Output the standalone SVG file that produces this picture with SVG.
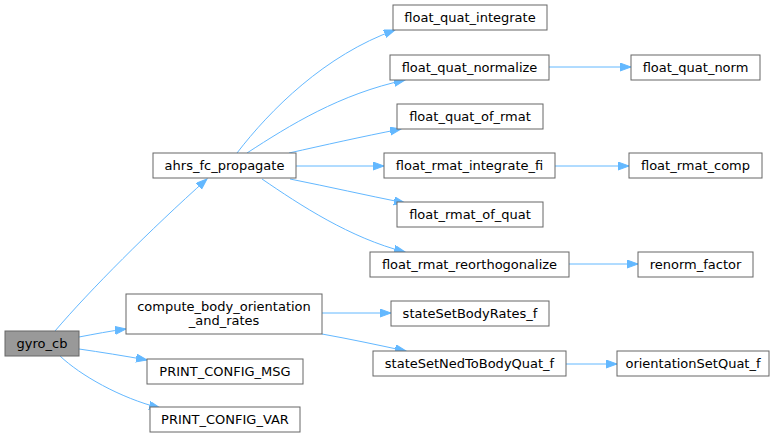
<svg xmlns="http://www.w3.org/2000/svg" width="780" height="439" viewBox="0 0 780 439">
<style>
.n rect{fill:#ffffff;stroke:#666666;stroke-width:1}
.n.root rect{fill:#999999}
text{font-family:"DejaVu Sans","Liberation Sans",sans-serif;font-size:13px;fill:#000000;text-anchor:middle}
.e path{fill:none;stroke:#63b8ff;stroke-width:1;marker-end:url(#ah)}
</style>
<defs>
<marker id="ah" markerUnits="userSpaceOnUse" markerWidth="12" markerHeight="9" refX="11" refY="4" orient="auto">
<path d="M0,0 L11,4 L0,8 z" fill="#63b8ff" stroke="#63b8ff"/>
</marker>
</defs>
<rect width="780" height="439" fill="#ffffff"/>
<g class="e" id="edges">
<path d="M55,331 C90,290 150,230 207,179"/>
<path d="M79,337 C95,334 110,331 126,329"/>
<path d="M79,349 C100,352 125,356 147,360"/>
<path d="M60,356 C80,375 120,398 160,408"/>
<path d="M237,153 C270,110 325,55 395,30"/>
<path d="M247,153 C290,125 340,94 405,80"/>
<path d="M289,153 C325,145 360,137 401,129"/>
<path d="M296,166 L384,166"/>
<path d="M290,179 C330,187 365,195 405,203"/>
<path d="M262,179 C300,205 350,238 405,252"/>
<path d="M549,67 L631,67"/>
<path d="M555,166 L629,166"/>
<path d="M569,264 L638,264"/>
<path d="M322,313 L391,313"/>
<path d="M322,334 C350,339 378,345 406,351"/>
<path d="M566,364 L617,364"/>
</g>
<g class="n root" id="gyro_cb"><rect x="5" y="331" width="74" height="25"/><text x="42" y="348">gyro_cb</text></g>
<g class="n" id="ahrs_fc_propagate"><rect x="153" y="153" width="143" height="25"/><text x="224.5" y="170">ahrs_fc_propagate</text></g>
<g class="n" id="float_quat_integrate"><rect x="393" y="5" width="154" height="25"/><text x="470" y="22">float_quat_integrate</text></g>
<g class="n" id="float_quat_normalize"><rect x="390" y="55" width="159" height="25"/><text x="469.5" y="72">float_quat_normalize</text></g>
<g class="n" id="float_quat_norm"><rect x="631" y="55" width="129" height="25"/><text x="695.5" y="72">float_quat_norm</text></g>
<g class="n" id="float_quat_of_rmat"><rect x="397" y="104" width="146" height="25"/><text x="470" y="121">float_quat_of_rmat</text></g>
<g class="n" id="float_rmat_integrate_fi"><rect x="384" y="153" width="171" height="25"/><text x="469.5" y="170">float_rmat_integrate_fi</text></g>
<g class="n" id="float_rmat_comp"><rect x="629" y="153" width="133" height="25"/><text x="695.5" y="170">float_rmat_comp</text></g>
<g class="n" id="float_rmat_of_quat"><rect x="397" y="202" width="146" height="25"/><text x="470" y="219">float_rmat_of_quat</text></g>
<g class="n" id="float_rmat_reorthogonalize"><rect x="370" y="252" width="199" height="25"/><text x="469.5" y="269">float_rmat_reorthogonalize</text></g>
<g class="n" id="renorm_factor"><rect x="638" y="252" width="115" height="25"/><text x="695.5" y="269">renorm_factor</text></g>
<g class="n" id="compute_body_orientation_and_rates"><rect x="126" y="294" width="196" height="40"/><text x="224" y="310.5">compute_body_orientation</text><text x="224" y="324.5">_and_rates</text></g>
<g class="n" id="stateSetBodyRates_f"><rect x="391" y="301" width="158" height="25"/><text x="470" y="318">stateSetBodyRates_f</text></g>
<g class="n" id="stateSetNedToBodyQuat_f"><rect x="373" y="351" width="193" height="25"/><text x="469.5" y="368">stateSetNedToBodyQuat_f</text></g>
<g class="n" id="orientationSetQuat_f"><rect x="617" y="351" width="152" height="25"/><text x="693" y="368">orientationSetQuat_f</text></g>
<g class="n" id="PRINT_CONFIG_MSG"><rect x="147" y="359" width="156" height="25"/><text x="225" y="376">PRINT_CONFIG_MSG</text></g>
<g class="n" id="PRINT_CONFIG_VAR"><rect x="150" y="407" width="150" height="25"/><text x="225" y="424">PRINT_CONFIG_VAR</text></g>
</svg>
